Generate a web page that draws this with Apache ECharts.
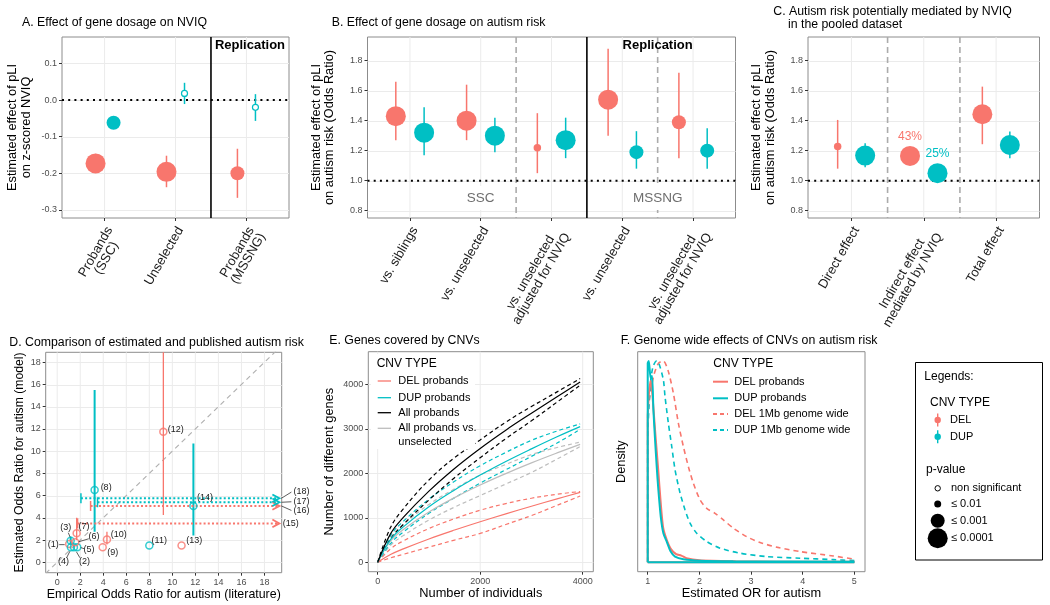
<!DOCTYPE html>
<html><head><meta charset="utf-8">
<script src="https://cdn.jsdelivr.net/npm/echarts@6/dist/echarts.min.js"></script>
<style>html,body{margin:0;padding:0;background:#fff}#c{width:1050px;height:605px}</style>
</head><body><div id="c"></div>
<script>
// ===================== DATA =====================
const A_CATS = ['Probands\n(SSC)', 'Unselected', 'Probands\n(MSSNG)'];
const A_DEL_EST = [-0.173, -0.196, -0.200];
const A_DEL_LO  = [-0.199, -0.238, -0.267];
const A_DEL_HI  = [-0.147, -0.152, -0.133];
const A_DEL_P   = ['p4', 'p4', 'p3'];
const A_DUP_EST = [-0.062, 0.018, -0.020];
const A_DUP_LO  = [-0.078, -0.011, -0.057];
const A_DUP_HI  = [-0.046, 0.047, 0.016];
const A_DUP_P   = ['p3', 'ns', 'ns'];
const A_YTICKS  = [-0.3, -0.2, -0.1, 0.0, 0.1];
const A_REF = 0;
const A_SOLID = [2.5];
const A_NOTE = ['Replication'];
const A_NOTE_POS = [[3.05, 0.148]];

const B_CATS = ['vs. siblings', 'vs. unselected', 'vs. unselected\nadjusted for NVIQ', 'vs. unselected', 'vs. unselected\nadjusted for NVIQ'];
const B_DEL_EST = [1.43, 1.40, 1.22, 1.54, 1.39];
const B_DEL_LO  = [1.27, 1.27, 1.05, 1.30, 1.15];
const B_DEL_HI  = [1.66, 1.64, 1.45, 1.88, 1.72];
const B_DEL_P   = ['p4', 'p4', 'p2', 'p4', 'p3'];
const B_DUP_EST = [1.32, 1.30, 1.27, 1.19, 1.20];
const B_DUP_LO  = [1.17, 1.19, 1.15, 1.08, 1.08];
const B_DUP_HI  = [1.49, 1.42, 1.42, 1.33, 1.35];
const B_DUP_P   = ['p4', 'p4', 'p4', 'p3', 'p3'];
const OR_TICKS  = [0.8, 1.0, 1.2, 1.4, 1.6, 1.8];
const OR_REF = 1;
const B_SOLID = [3.5];
const B_DASHED = [2.5, 4.5];
const B_GROUPS = ['SSC', 'MSSNG'];
const B_GROUP_POS = [[2, 0.885], [4.5, 0.885]];
const B_NOTE = ['Replication'];
const B_NOTE_POS = [[4.5, 1.905]];

const C_CATS = ['Direct effect', 'Indirect effect\nmediated by NVIQ', 'Total effect'];
const C_DEL_EST = [1.227, 1.165, 1.443];
const C_DEL_LO  = [1.08, null, 1.243];
const C_DEL_HI  = [1.405, null, 1.627];
const C_DEL_P   = ['p2', 'p4', 'p4'];
const C_DEL_PCT = ['', '43%', ''];
const C_DUP_EST = [1.167, 1.05, 1.238];
const C_DUP_LO  = [1.09, null, 1.15];
const C_DUP_HI  = [1.25, null, 1.327];
const C_DUP_P   = ['p4', 'p4', 'p4'];
const C_DUP_PCT = ['', '25%', ''];
const C_DASHED = [1.5, 2.5];

const D_IDS  = ['(1)','(2)','(3)','(4)','(5)','(6)','(7)','(8)','(9)','(10)','(11)','(12)','(13)','(14)'];
const D_TYPE = ['DEL','DUP','DUP','DUP','DUP','DEL','DEL','DUP','DEL','DEL','DUP','DEL','DEL','DUP'];
const D_EMP  = [1.04, 1.45, 1.17, 1.19, 1.74, 1.57, 1.69, 3.25, 3.95, 4.32, 8.0, 9.22, 10.8, 11.83];
const D_MOD  = [1.65, 1.35, 1.94, 1.35, 1.35, 1.80, 2.61, 6.5, 1.35, 2.05, 1.5, 11.75, 1.5, 5.07];
const D_MOD_LO = [null, null, 1.6, null, null, null, 2.0, 2.75, null, 1.6, null, 4.26, null, 2.4];
const D_MOD_HI = [null, null, 2.3, null, null, null, 4.0, 15.5, null, 2.75, null, 25, null, 10.7];
const D_ARROW_IDS  = ['(15)','(16)','(17)','(18)'];
const D_ARROW_TYPE = ['DEL','DEL','DUP','DUP'];
const D_ARROW_FROM = [1.77, 2.9, 3.5, 2.06];
const D_ARROW_Y    = [3.5, 5.07, 5.4, 5.76];
const D_ARROW_TO   = 19.3;
const D_TICKS = [0, 2, 4, 6, 8, 10, 12, 14, 16, 18];
const D_DIAG = [-1, 19.5];

const E_N      = [0, 250, 500, 1000, 1500, 2000, 2500, 3000, 3500, 3950];
const E_DEL    = [0, 174, 302, 525, 725, 912, 1090, 1260, 1425, 1570];
const E_DEL_HI = [0, 300, 480, 760, 980, 1170, 1320, 1440, 1530, 1590];
const E_DEL_LO = [0, 100, 180, 340, 500, 650, 850, 1050, 1280, 1490];
const E_DUP    = [0, 508, 797, 1249, 1625, 1960, 2266, 2550, 2822, 3050];
const E_DUP_HI = [0, 600, 920, 1420, 1820, 2170, 2470, 2740, 2950, 3110];
const E_DUP_LO = [0, 420, 680, 1100, 1450, 1780, 2080, 2380, 2680, 2990];
const E_ALL    = [0, 640, 1010, 1600, 2110, 2560, 2970, 3350, 3720, 4050];
const E_ALL_HI = [0, 780, 1200, 1850, 2350, 2750, 3150, 3500, 3830, 4130];
const E_ALL_LO = [0, 520, 850, 1400, 1900, 2350, 2780, 3180, 3600, 3980];
const E_UNS    = [0, 478, 736, 1130, 1453, 1737, 1994, 2234, 2458, 2650];
const E_UNS_HI = [0, 560, 850, 1300, 1650, 1960, 2200, 2420, 2580, 2700];
const E_UNS_LO = [0, 380, 600, 950, 1240, 1500, 1760, 2020, 2320, 2600];
const E_XTICKS = [0, 2000, 4000];
const E_YTICKS = [0, 1000, 2000, 3000, 4000];
const E_LEGEND = ['DEL probands', 'DUP probands', 'All probands', 'All probands vs.\nunselected'];

const F_DEL_X = [1.0, 1.0, 1.03, 1.06, 1.1, 1.15, 1.2, 1.25, 1.3, 1.37, 1.45, 1.55, 1.65, 1.75, 2.0, 2.7, 3.5, 5.0];
const F_DEL_Y = [0, 0.70, 0.86, 0.90, 0.80, 0.63, 0.47, 0.30, 0.17, 0.11, 0.065, 0.04, 0.033, 0.02, 0.01, 0.005, 0.003, 0.002];
const F_DUP_X = [1.0, 1.0, 1.02, 1.058, 1.084, 1.11, 1.142, 1.174, 1.206, 1.252, 1.303, 1.368, 1.445, 1.529, 1.69, 2.013, 2.658, 5.0];
const F_DUP_Y = [0, 0.988, 1.0, 0.914, 0.925, 0.757, 0.608, 0.475, 0.359, 0.227, 0.144, 0.103, 0.053, 0.028, 0.015, 0.008, 0.005, 0.002];
const F_DEL1_X = [1.0, 1.0, 1.11, 1.206, 1.303, 1.4, 1.497, 1.594, 1.69, 1.787, 1.884, 2.013, 2.142, 2.303, 2.465, 2.658, 2.916, 3.174, 3.497, 3.948, 4.594, 5.0];
const F_DEL1_Y = [0, 0.732, 0.92, 0.988, 1.0, 0.947, 0.839, 0.69, 0.575, 0.475, 0.392, 0.31, 0.268, 0.243, 0.21, 0.169, 0.127, 0.098, 0.075, 0.053, 0.031, 0.015];
const F_DUP1_X = [1.0, 1.0, 1.05, 1.1, 1.17, 1.206, 1.303, 1.335, 1.4, 1.465, 1.529, 1.626, 1.723, 1.819, 1.948, 2.142, 2.4, 2.787, 3.303, 3.948, 4.594, 5.0];
const F_DUP1_Y = [0, 0.6, 0.88, 0.97, 1.0, 0.997, 0.906, 0.823, 0.69, 0.575, 0.459, 0.344, 0.26, 0.194, 0.144, 0.103, 0.07, 0.045, 0.028, 0.02, 0.013, 0.008];
const F_BASE_X = [1, 5];
const F_XTICKS = [1, 2, 3, 4, 5];
const F_LEGEND = ['DEL probands', 'DUP probands', 'DEL 1Mb genome wide', 'DUP 1Mb genome wide'];

const PVAL_LEGEND = ['non significant', '\u2264 0.01', '\u2264 0.001', '\u2264 0.0001'];

// ===================== STYLE =====================
const RED = '#F8766D', TEAL = '#00BFC4';
const FONT = '"Liberation Sans", Arial, Helvetica, sans-serif';
const GRIDC = '#EBEBEB';
const PSIZE = {ns: 6, p2: 7.5, p3: 14, p4: 20};
const COLOR = {DEL: RED, DUP: TEAL};
const CAT_FS = 13, CAT_LH = 12.5;

const D_LABEL_POS = [
  {dx:-16, dy:0.7, lead:[-10,0.7,-4.5,0.7]},
  {dx:10.7, dy:14.7, lead:[6,10.5,2.5,4.5]},
  {dx:-4.9, dy:-12.9, lead:[-2.4,-8,-0.5,-3.5]},
  {dx:-7.3, dy:14.7, lead:[-4.3,10.5,-1,4]},
  {dx:11.7, dy:2.2, lead:[3.5,0.3,7,1.5]},
  {dx:18.7, dy:-5.3, lead:[13.5,-3.5,3.5,-0.5]},
  {dx:7.3, dy:-7.1},
  {dx:11.5, dy:-2.4},
  {dx:10.1, dy:5},
  {dx:11.8, dy:-4.5},
  {dx:9.9, dy:-4.9},
  {dx:12.5, dy:-2.5},
  {dx:12.7, dy:-4.9},
  {dx:11.5, dy:-8}
];
const D_ARROW_LABEL_POS = [
  {dx:3.4, dy:0},
  {dx:14, dy:4.7, lead:[2,0,12,4.5]},
  {dx:14, dy:-0.6, lead:[2,0,12,-0.5]},
  {dx:14, dy:-6.6, lead:[2,0,12,-6.2]}
];

const GRIDS = [
  {left:62, top:37, width:227, height:181},
  {left:367.5, top:37, width:368, height:181},
  {left:808, top:37, width:231.5, height:181},
  {left:45.7, top:352.3, width:236, height:220.4},
  {left:368.3, top:351.7, width:225, height:220},
  {left:637.7, top:351.7, width:227.3, height:220}
];

// ===================== HELPERS =====================
const measureCtx = document.createElement('canvas').getContext('2d');
function textWidth(s, size) { measureCtx.font = size + 'px ' + FONT; return measureCtx.measureText(s).width; }

function valAxis(g, min, max, ticks, fmt, extra) {
  extra = extra || {};
  const ax = {
    type:'value', gridIndex:g, min:min, max:max,
    axisLine:{show:false, onZero:false},
    splitLine:{show:false}, splitArea:{show:false}, minorTick:{show:false}, minorSplitLine:{show:false},
    axisTick:{show:true, customValues:ticks, length:3, lineStyle:{color:'#333', width:1}},
    axisLabel:Object.assign({show:true, customValues:ticks, formatter:fmt, fontSize:9, color:'#4d4d4d', fontFamily:FONT, margin:5, hideOverlap:false}, extra.label || {})
  };
  if (extra.name) {
    ax.name = extra.name; ax.nameLocation = 'middle'; ax.nameGap = extra.gap;
    if (extra.rot) ax.nameRotate = 90;
    ax.nameTextStyle = {fontSize:extra.nameSize || 12.8, color:'#000', fontFamily:FONT, lineHeight:13.5};
  }
  if (extra.noTicks) { ax.axisTick = {show:false}; ax.axisLabel = {show:false}; }
  return ax;
}
function catAxis(g, cats) {
  const pos = cats.map((_, i) => i + 1);
  const rich = {};
  cats.forEach((c, i) => {
    const w = Math.max.apply(null, c.split('\n').map(l => textWidth(l, CAT_FS)));
    rich['c' + i] = {width:Math.ceil(w) + 1, align:'center', fontSize:CAT_FS, lineHeight:CAT_LH, fontFamily:FONT, color:'#1a1a1a'};
  });
  return {
    type:'value', gridIndex:g, min:0.4, max:cats.length + 0.6,
    axisLine:{show:false, onZero:false}, splitLine:{show:false}, minorTick:{show:false},
    axisTick:{show:true, customValues:pos, length:3, lineStyle:{color:'#333', width:1}},
    axisLabel:{show:true, customValues:pos,
      formatter:(v) => { const i = Math.round(v) - 1; return (cats[i] || '').split('\n').map(l => '{c' + i + '|' + l + '}').join('\n'); },
      rich:rich, rotate:60, fontSize:CAT_FS, lineHeight:CAT_LH, color:'#1a1a1a', fontFamily:FONT, margin:6,
      align:'right', verticalAlign:'top', hideOverlap:false}
  };
}
function hGrid(g, ticks) {
  return {type:'custom', xAxisIndex:g, yAxisIndex:g, z:1, silent:true, data:ticks.map(t => [t, t]),
    renderItem:(params, api) => {
      const cs = params.coordSys; const y = Math.round(api.coord([api.value(0), api.value(1)])[1]) + 0.5;
      return {type:'line', shape:{x1:cs.x, y1:y, x2:cs.x + cs.width, y2:y}, style:{stroke:GRIDC, lineWidth:1}};
    }};
}
function vGrid(g, ticks, style) {
  style = style || {stroke:GRIDC, lineWidth:1};
  return {type:'custom', xAxisIndex:g, yAxisIndex:g, z:2, silent:true, data:ticks.map(t => [t, t]),
    renderItem:(params, api) => {
      const cs = params.coordSys; const x = api.coord([api.value(0), api.value(1)])[0];
      return {type:'line', shape:{x1:x, y1:cs.y, x2:x, y2:cs.y + cs.height}, style:style};
    }};
}
function hRef(g, val) {
  return {type:'custom', xAxisIndex:g, yAxisIndex:g, z:3, silent:true, data:[[val, val]],
    renderItem:(params, api) => {
      const cs = params.coordSys; const y = api.coord([api.value(0), api.value(1)])[1];
      return {type:'line', shape:{x1:cs.x, y1:y, x2:cs.x + cs.width, y2:y},
        style:{stroke:'#000', lineWidth:2, lineDash:[2, 4.2]}};
    }};
}
function errSeries(g, lo, hi, col, dodge, width) {
  const data = [];
  lo.forEach((l, i) => { if (l != null && hi[i] != null) data.push([i + 1 + dodge, l, hi[i]]); });
  return {type:'custom', xAxisIndex:g, yAxisIndex:g, z:4, silent:true, encode:{x:0, y:[1, 2]}, data:data,
    renderItem:(params, api) => {
      const a = api.coord([api.value(0), api.value(1)]), b = api.coord([api.value(0), api.value(2)]);
      return {type:'line', shape:{x1:a[0], y1:a[1], x2:b[0], y2:b[1]}, style:{stroke:col, lineWidth:width || 1.5}};
    }};
}
function pointSeries(g, est, p, col, dodge, pct) {
  return {type:'scatter', xAxisIndex:g, yAxisIndex:g, z:5, silent:true,
    data:est.map((v, i) => ({
      value:[i + 1 + dodge, v], symbolSize:PSIZE[p[i]],
      itemStyle:p[i] === 'ns' ? {color:'#fff', borderColor:col, borderWidth:1.2, opacity:1} : {color:col, borderWidth:0, opacity:1},
      label:(pct && pct[i]) ? {show:true, formatter:pct[i], position:'top', distance:3, color:col, fontSize:12, fontFamily:FONT} : {show:false}
    }))};
}
function textSeries(g, pts, texts, style) {
  return {type:'custom', xAxisIndex:g, yAxisIndex:g, z:6, silent:true, data:pts,
    renderItem:(params, api) => {
      const p = api.coord([api.value(0), api.value(1)]);
      return {type:'text', x:p[0], y:p[1], style:Object.assign({text:texts[params.dataIndex], align:'center', verticalAlign:'middle',
        textAlign:'center', textVerticalAlign:'middle', fontFamily:FONT}, style)};
    }};
}
function lineSeries(g, xs, ys, col, width, dash, z, smooth) {
  return {type:'line', xAxisIndex:g, yAxisIndex:g, data:xs.map((x, i) => [x, ys[i]]), symbol:'none', showSymbol:false,
    smooth:smooth == null ? 0.3 : smooth, silent:true, z:z || 3,
    lineStyle:{color:col, width:width, type:dash || 'solid'}};
}
function gText(x, y, text, o) {
  o = o || {};
  return {type:'text', x:x, y:y, z:60, silent:true, style:{text:text, fill:o.fill || '#000', fontSize:o.size || 11,
    fontFamily:FONT, fontWeight:o.weight || 'normal', align:o.align || 'left', verticalAlign:o.va || 'middle',
    textAlign:o.align || 'left', textVerticalAlign:o.va || 'middle', lineHeight:o.lh || 14}};
}
function gLine(x1, y1, x2, y2, col, w, dash) {
  return {type:'line', z:60, silent:true, shape:{x1:x1, y1:y1, x2:x2, y2:y2}, style:{stroke:col, lineWidth:w, lineDash:dash || null}};
}
function gCircle(cx, cy, r, fill, stroke) {
  return {type:'circle', z:60, silent:true, shape:{cx:cx, cy:cy, r:r}, style:{fill:fill, stroke:stroke || null, lineWidth:1}};
}

// ===================== AXES =====================
const fmt1 = v => (Math.abs(v) < 1e-9 ? '0.0' : v.toFixed(1));
const fmtInt = v => String(Math.round(v));
const xAxes = [
  catAxis(0, A_CATS),
  catAxis(1, B_CATS),
  catAxis(2, C_CATS),
  valAxis(3, -1.0, 19.5, D_TICKS, fmtInt, {name:'Empirical Odds Ratio for autism (literature)', gap:11, nameSize:12.4}),
  valAxis(4, -183, 4207, E_XTICKS, fmtInt, {name:'Number of individuals', gap:13}),
  valAxis(5, 0.806, 5.206, F_XTICKS, fmtInt, {name:'Estimated OR for autism', gap:13})
];
const yAxes = [
  valAxis(0, -0.322, 0.172, A_YTICKS, fmt1, {name:'Estimated effect of pLI\non z-scored NVIQ', gap:29, rot:true}),
  valAxis(1, 0.751, 1.958, OR_TICKS, fmt1, {name:'Estimated effect of pLI\non autism risk (Odds Ratio)', gap:31, rot:true}),
  valAxis(2, 0.751, 1.958, OR_TICKS, fmt1, {name:'Estimated effect of pLI\non autism risk (Odds Ratio)', gap:31, rot:true}),
  valAxis(3, -0.94, 18.9, D_TICKS, fmtInt, {name:'Estimated Odds Ratio for autism (model)', gap:13, rot:true, nameSize:12.2}),
  valAxis(4, -211, 4733, E_YTICKS, fmtInt, {name:'Number of different genes', gap:32, rot:true}),
  valAxis(5, -0.047, 1.046, [], fmtInt, {name:'Density', gap:9, rot:true, noTicks:true})
];

// ===================== SERIES =====================
const series = [];
// Panel A
series.push(hGrid(0, A_YTICKS), vGrid(0, A_CATS.map((_, i) => i + 1)), hRef(0, A_REF),
  vGrid(0, A_SOLID, {stroke:'#000', lineWidth:1.6}),
  errSeries(0, A_DEL_LO, A_DEL_HI, RED, -0.127), errSeries(0, A_DUP_LO, A_DUP_HI, TEAL, 0.127),
  pointSeries(0, A_DEL_EST, A_DEL_P, RED, -0.127), pointSeries(0, A_DUP_EST, A_DUP_P, TEAL, 0.127),
  textSeries(0, A_NOTE_POS, A_NOTE, {fontSize:13, fontWeight:'bold', fill:'#000'}));
// Panel B
series.push(hGrid(1, OR_TICKS), vGrid(1, B_CATS.map((_, i) => i + 1)),
  textSeries(1, B_GROUP_POS, B_GROUPS, {fontSize:13.5, fill:'#6e6e6e', backgroundColor:'#fff', padding:[5, 6]}),
  hRef(1, OR_REF),
  vGrid(1, B_DASHED, {stroke:'#ababab', lineWidth:1.6, lineDash:[6, 4]}),
  vGrid(1, B_SOLID, {stroke:'#000', lineWidth:1.6}),
  errSeries(1, B_DEL_LO, B_DEL_HI, RED, -0.2), errSeries(1, B_DUP_LO, B_DUP_HI, TEAL, 0.2),
  pointSeries(1, B_DEL_EST, B_DEL_P, RED, -0.2), pointSeries(1, B_DUP_EST, B_DUP_P, TEAL, 0.2),
  textSeries(1, B_NOTE_POS, B_NOTE, {fontSize:13, fontWeight:'bold', fill:'#000'}));
// Panel C
series.push(hGrid(2, OR_TICKS), vGrid(2, C_CATS.map((_, i) => i + 1)), hRef(2, OR_REF),
  vGrid(2, C_DASHED, {stroke:'#ababab', lineWidth:1.6, lineDash:[6, 4]}),
  errSeries(2, C_DEL_LO, C_DEL_HI, RED, -0.19), errSeries(2, C_DUP_LO, C_DUP_HI, TEAL, 0.19),
  pointSeries(2, C_DEL_EST, C_DEL_P, RED, -0.19, C_DEL_PCT), pointSeries(2, C_DUP_EST, C_DUP_P, TEAL, 0.19, C_DUP_PCT));
// Panel D
series.push(hGrid(3, D_TICKS), vGrid(3, D_TICKS));
series.push({type:'line', xAxisIndex:3, yAxisIndex:3, z:3, silent:true, symbol:'none', clip:true,
  data:[[D_DIAG[0], D_DIAG[0]], [D_DIAG[1], D_DIAG[1]]], lineStyle:{color:'#b0b0b0', width:1.2, type:[5, 4]}});
['DEL', 'DUP'].forEach(t => {
  const data = [];
  D_EMP.forEach((x, i) => { if (D_TYPE[i] === t && D_MOD_LO[i] != null) data.push([x, D_MOD_LO[i], D_MOD_HI[i]]); });
  series.push({type:'custom', xAxisIndex:3, yAxisIndex:3, z:4, silent:true, clip:true, encode:{x:0, y:[1, 2]}, data:data,
    renderItem:(params, api) => {
      const a = api.coord([api.value(0), api.value(1)]), b = api.coord([api.value(0), api.value(2)]);
      return {type:'line', shape:{x1:a[0], y1:a[1], x2:b[0], y2:b[1]}, style:{stroke:COLOR[t], lineWidth:t === 'DUP' ? 2 : 1.3}};
    }});
});
series.push({type:'custom', xAxisIndex:3, yAxisIndex:3, z:4, silent:true,
  data:D_ARROW_FROM.map((x, i) => [x, D_ARROW_Y[i], D_ARROW_TO]),
  renderItem:(params, api) => {
    const i = params.dataIndex, col = COLOR[D_ARROW_TYPE[i]], lp = D_ARROW_LABEL_POS[i];
    const a = api.coord([api.value(0), api.value(1)]), b = api.coord([api.value(2), api.value(1)]);
    const ch = [
      {type:'line', shape:{x1:a[0], y1:a[1], x2:b[0] - 1, y2:b[1]}, style:{stroke:col, lineWidth:2, lineDash:[2, 2.2]}},
      {type:'line', shape:{x1:a[0], y1:a[1] - 5, x2:a[0], y2:a[1] + 5}, style:{stroke:col, lineWidth:1.5}},
      {type:'polyline', shape:{points:[[b[0] - 7, b[1] - 3.8], [b[0], b[1]], [b[0] - 7, b[1] + 3.8]]}, style:{stroke:col, lineWidth:1.8, fill:null}},
      {type:'text', x:b[0] + lp.dx, y:b[1] + lp.dy, style:{text:D_ARROW_IDS[i], fill:'#222', fontSize:9, fontFamily:FONT,
        align:'left', verticalAlign:'middle', textAlign:'left', textVerticalAlign:'middle'}}
    ];
    if (lp.lead) ch.push({type:'line', shape:{x1:b[0] + lp.lead[0], y1:b[1] + lp.lead[1], x2:b[0] + lp.lead[2], y2:b[1] + lp.lead[3]}, style:{stroke:'#333', lineWidth:0.8}});
    return {type:'group', children:ch};
  }});
series.push({type:'scatter', xAxisIndex:3, yAxisIndex:3, z:5, silent:true,
  data:D_EMP.map((x, i) => ({value:[x, D_MOD[i]], symbolSize:7, itemStyle:{color:'rgba(255,255,255,0)', borderColor:COLOR[D_TYPE[i]], borderWidth:1.5}}))});
series.push({type:'custom', xAxisIndex:3, yAxisIndex:3, z:6, silent:true,
  data:D_EMP.map((x, i) => [x, D_MOD[i]]),
  renderItem:(params, api) => {
    const i = params.dataIndex, lp = D_LABEL_POS[i];
    const p = api.coord([api.value(0), api.value(1)]);
    const ch = [{type:'text', x:p[0] + lp.dx, y:p[1] + lp.dy, style:{text:D_IDS[i], fill:'#222', fontSize:9, fontFamily:FONT,
      align:'center', verticalAlign:'middle', textAlign:'center', textVerticalAlign:'middle'}}];
    if (lp.lead) ch.push({type:'line', shape:{x1:p[0] + lp.lead[0], y1:p[1] + lp.lead[1], x2:p[0] + lp.lead[2], y2:p[1] + lp.lead[3]}, style:{stroke:'#333', lineWidth:0.8}});
    return {type:'group', children:ch};
  }});
// Panel E
series.push(hGrid(4, E_YTICKS), vGrid(4, E_XTICKS));
const E_SETS = [[E_UNS, E_UNS_HI, E_UNS_LO, '#BDBDBD'], [E_DEL, E_DEL_HI, E_DEL_LO, RED], [E_DUP, E_DUP_HI, E_DUP_LO, TEAL], [E_ALL, E_ALL_HI, E_ALL_LO, '#000']];
E_SETS.forEach(s => {
  series.push(lineSeries(4, E_N, s[1], s[3], 1.2, [4, 3], 3, 0.4));
  series.push(lineSeries(4, E_N, s[2], s[3], 1.2, [4, 3], 3, 0.4));
});
E_SETS.forEach(s => series.push(lineSeries(4, E_N, s[0], s[3], 1.2, 'solid', 4, 0.4)));
// Panel F
series.push(lineSeries(5, F_BASE_X, [0, 0], RED, 2, 'solid', 3, false));
series.push(lineSeries(5, F_DEL1_X, F_DEL1_Y, RED, 1.6, [5, 4], 3, 0.25));
series.push(lineSeries(5, F_DUP1_X, F_DUP1_Y, TEAL, 1.6, [5, 4], 3, 0.25));
series.push(lineSeries(5, F_DEL_X, F_DEL_Y, RED, 2, 'solid', 4, 0.25));
series.push(lineSeries(5, F_DUP_X, F_DUP_Y, TEAL, 2, 'solid', 5, 0.25));
series.push(lineSeries(5, F_BASE_X, [0, 0], TEAL, 2, 'solid', 5, false));

// ===================== GRAPHIC (legends) =====================
const graphic = [];
// E legend
graphic.push({type:'rect', z:55, silent:true, shape:{x:371, y:354, width:104, height:95}, style:{fill:'#fff'}});
graphic.push(gText(376.7, 363.3, 'CNV TYPE', {size:12}));
const E_LEG_Y = [381, 397.7, 412.7, 428.3];
const E_LEG_C = [RED, TEAL, '#000', '#BDBDBD'];
E_LEGEND.forEach((t, i) => {
  graphic.push(gLine(377.7, E_LEG_Y[i], 391, E_LEG_Y[i], E_LEG_C[i], 1.3));
  graphic.push(gText(398.3, E_LEG_Y[i] - 7, t, {size:11, va:'top', lh:14}));
});
// F legend
graphic.push(gText(713.3, 363.3, 'CNV TYPE', {size:12}));
const F_LEG_Y = [381.7, 398.3, 414, 430];
const F_LEG_C = [RED, TEAL, RED, TEAL];
const F_LEG_D = [null, null, [4, 3], [4, 3]];
F_LEGEND.forEach((t, i) => {
  graphic.push(gLine(713, F_LEG_Y[i], 728, F_LEG_Y[i], F_LEG_C[i], 2, F_LEG_D[i]));
  graphic.push(gText(734.3, F_LEG_Y[i], t, {size:11}));
});
// Right legend box
graphic.push({type:'rect', z:55, silent:true, shape:{x:915.5, y:362.5, width:127, height:197.5}, style:{fill:'#fff', stroke:'#000', lineWidth:1}});
graphic.push(gText(924.3, 376.7, 'Legends:', {size:12}));
graphic.push(gText(930, 402.7, 'CNV TYPE', {size:12}));
[['DEL', RED, 420], ['DUP', TEAL, 436.7]].forEach(r => {
  graphic.push(gLine(937.7, r[2] - 6.5, 937.7, r[2] + 6.5, r[1], 1.4));
  graphic.push(gCircle(937.7, r[2], 3.2, r[1]));
  graphic.push(gText(950, r[2], r[0], {size:11}));
});
graphic.push(gText(926, 470, 'p-value', {size:12}));
const PV_Y = [488.3, 504, 520.7, 538.3];
const PV_R = [2.7, 3.5, 7, 10];
PVAL_LEGEND.forEach((t, i) => {
  graphic.push(i === 0 ? gCircle(937.7, PV_Y[i], PV_R[i], '#fff', '#000') : gCircle(937.7, PV_Y[i], PV_R[i], '#000'));
  graphic.push(gText(951, PV_Y[i], t, {size:11}));
});

// ===================== TITLES =====================
const tStyle = {fontSize:12.3, fontWeight:'normal', color:'#000', fontFamily:FONT};
const titles = [
  {text:'A. Effect of gene dosage on NVIQ', left:22, top:17},
  {text:'B. Effect of gene dosage on autism risk', left:331.7, top:17},
  {text:'C. Autism risk potentially mediated by NVIQ', left:773.3, top:5.5},
  {text:'in the pooled dataset', left:788, top:18.5},
  {text:'D. Comparison of estimated and published autism risk', left:9.3, top:337},
  {text:'E. Genes covered by CNVs', left:329.3, top:334.5},
  {text:'F. Genome wide effects of CNVs on autism risk', left:620.7, top:334.5}
].map(t => Object.assign({padding:0, textStyle:tStyle}, t));

const option = {
  animation:false,
  backgroundColor:'#fff',
  textStyle:{fontFamily:FONT},
  title:titles,
  grid:GRIDS.map(g => Object.assign({show:true, borderColor:'#8c8c8c', borderWidth:1, backgroundColor:'#fff', containLabel:false}, g)),
  xAxis:xAxes,
  yAxis:yAxes,
  series:series,
  graphic:graphic
};
const chart = echarts.init(document.getElementById('c'), null, {renderer:'canvas', width:1050, height:605});
chart.setOption(option);
</script></body></html>
